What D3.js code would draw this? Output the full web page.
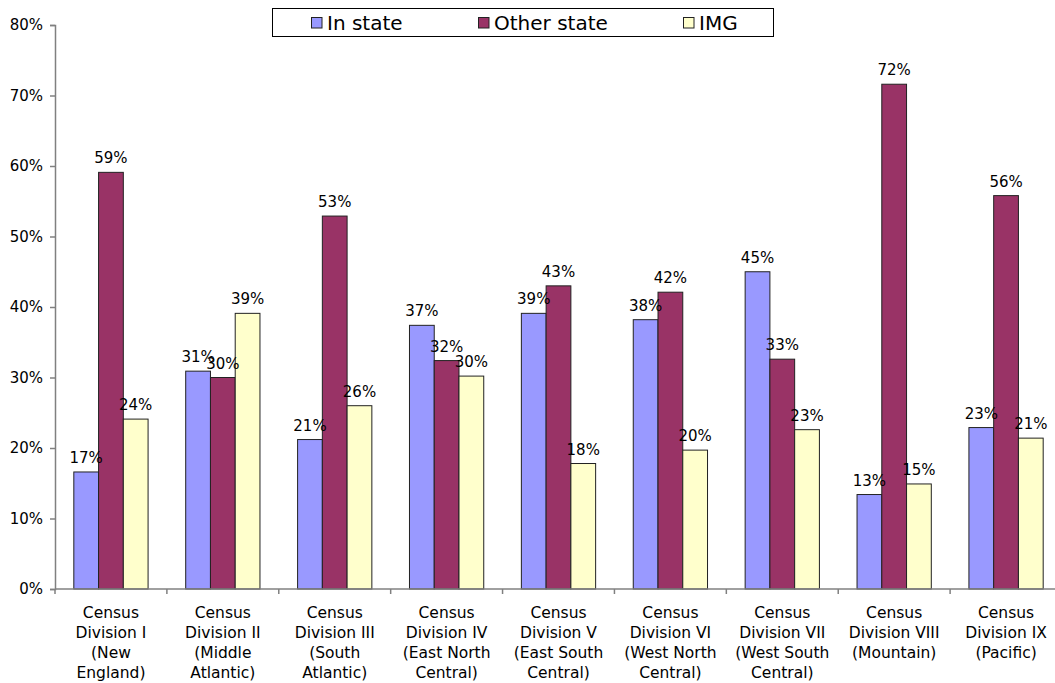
<!DOCTYPE html>
<html>
<head>
<meta charset="utf-8">
<script src="https://cdn.jsdelivr.net/npm/d3@7"></script>
<style>
  body { margin: 0; background: #fff; }
  svg { display: block; font-family: Verdana, "DejaVu Sans", sans-serif; }
</style>
</head>
<body>
<script>
// division labels, line breaks as in the original axis
var categories = [
  "Census|Division I|(New|England)",
  "Census|Division II|(Middle|Atlantic)",
  "Census|Division III|(South|Atlantic)",
  "Census|Division IV|(East North|Central)",
  "Census|Division V|(East South|Central)",
  "Census|Division VI|(West North|Central)",
  "Census|Division VII|(West South|Central)",
  "Census|Division VIII|(Mountain)",
  "Census|Division IX|(Pacific)"
];

var seriesNames = ["In state", "Other state", "IMG"];
var seriesColours = ["#9999ff", "#993366", "#ffffcc"];

var inState    = [16.6, 30.9, 21.2, 37.4, 39.1, 38.2, 45.0, 13.4, 22.9];
var otherState = [59.1, 30.0, 52.9, 32.4, 43.0, 42.1, 32.6, 71.6, 55.8];
var img        = [24.1, 39.1, 26.0, 30.2, 17.8, 19.7, 22.6, 14.9, 21.4];

var yTicks = [0, 10, 20, 30, 40, 50, 60, 70, 80];

var width = 1055, height = 683;
var margin = {left: 55, top: 25, bottom: 94};

var svg = d3.select("body").append("svg")
  .attr("width", width)
  .attr("height", height);

var x0 = d3.scaleBand()
  .domain(categories)
  .range([margin.left, 1062])
  .paddingInner(0)
  .paddingOuter(0);

var x1 = d3.scaleBand()
  .domain(seriesNames)
  .range([0, x0.bandwidth()])
  .paddingInner(0)
  .paddingOuter(0.76);

var y = d3.scaleLinear()
  .domain([0, 80])
  .range([height - margin.bottom, margin.top]);

var colour = d3.scaleOrdinal().domain(seriesNames).range(seriesColours);

var table = categories.map(function(c, i) {
  return {cat: c, values: [inState[i], otherState[i], img[i]]};
});

// bars
var groups = svg.selectAll("g.group")
  .data(table)
  .enter().append("g")
    .attr("class", "group")
    .attr("transform", function(d) { return "translate(" + x0(d.cat) + ",0)"; });

groups.selectAll("rect")
  .data(function(d) { return d.values.map(function(v, j) { return {name: seriesNames[j], value: v}; }); })
  .enter().append("rect")
    .attr("x", function(d) { return x1(d.name); })
    .attr("y", function(d) { return y(d.value); })
    .attr("width", x1.bandwidth())
    .attr("height", function(d) { return y(0) - y(d.value); })
    .attr("fill", function(d) { return colour(d.name); })
    .attr("stroke", "#222")
    .attr("stroke-width", 1);

// value labels
groups.selectAll("text.val")
  .data(function(d) { return d.values.map(function(v, j) { return {name: seriesNames[j], value: v}; }); })
  .enter().append("text")
    .attr("class", "val")
    .attr("x", function(d) { return x1(d.name) + x1.bandwidth() / 2; })
    .attr("y", function(d) { return y(d.value) - 9; })
    .attr("text-anchor", "middle")
    .attr("font-size", 15)
    .attr("fill", "#000")
    .text(function(d) { return Math.round(d.value) + "%"; });

// y axis
var yAxis = svg.append("g")
  .attr("transform", "translate(" + margin.left + ",0)")
  .call(d3.axisLeft(y).tickValues(yTicks).tickSize(5).tickPadding(7)
    .tickFormat(function(d) { return d + "%"; }));
yAxis.select(".domain").attr("stroke", "#808080").attr("stroke-width", 1.5);
yAxis.selectAll(".tick line").attr("stroke", "#808080").attr("stroke-width", 1.5);
yAxis.selectAll(".tick text").attr("font-size", 15).attr("fill", "#000")
  .attr("font-family", "Verdana, 'DejaVu Sans', sans-serif");

// x axis
var xAxis = svg.append("g")
  .attr("transform", "translate(0," + y(0) + ")");
xAxis.append("line")
  .attr("x1", margin.left).attr("x2", width)
  .attr("stroke", "#808080").attr("stroke-width", 1.5);
xAxis.selectAll("line.tick")
  .data(categories.concat(["end"]))
  .enter().append("line")
    .attr("class", "tick")
    .attr("x1", function(d, i) { return margin.left + i * x0.step(); })
    .attr("x2", function(d, i) { return margin.left + i * x0.step(); })
    .attr("y1", 0).attr("y2", 5)
    .attr("stroke", "#808080").attr("stroke-width", 1.5);

var catLabels = xAxis.selectAll("text.cat")
  .data(categories)
  .enter().append("text")
    .attr("class", "cat")
    .attr("text-anchor", "middle")
    .attr("font-size", 15.5)
    .attr("fill", "#000")
    .attr("transform", function(d) { return "translate(" + (x0(d) + x0.bandwidth() / 2) + ",29)"; });

catLabels.selectAll("tspan")
  .data(function(d) { return d.split("|"); })
  .enter().append("tspan")
    .attr("x", 0)
    .attr("dy", function(d, i) { return i === 0 ? 0 : 20; })
    .text(function(d) { return d; });

// legend
var legend = svg.append("g");
legend.append("rect")
  .attr("x", 272.5).attr("y", 8.5)
  .attr("width", 501).attr("height", 28)
  .attr("fill", "#fff").attr("stroke", "#000").attr("stroke-width", 1);

var legendX = [311, 478, 683];
var items = legend.selectAll("g.item")
  .data(seriesNames)
  .enter().append("g")
    .attr("class", "item")
    .attr("transform", function(d, i) { return "translate(" + legendX[i] + ",0)"; });

items.append("rect")
  .attr("x", 0.5).attr("y", 17.5)
  .attr("width", 10.5).attr("height", 10.5)
  .attr("fill", function(d) { return colour(d); })
  .attr("stroke", "#222");

items.append("text")
  .attr("x", 16).attr("y", 29.5)
  .attr("font-size", 20)
  .attr("fill", "#000")
  .text(function(d) { return d; });
</script>
</body>
</html>
